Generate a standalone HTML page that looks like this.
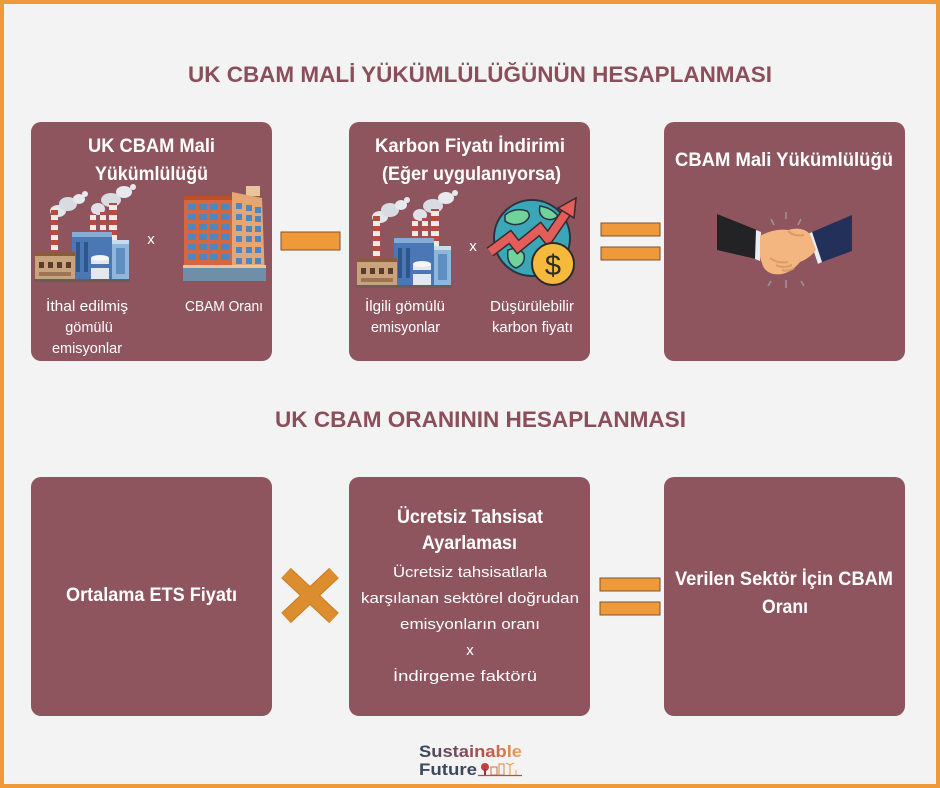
<!DOCTYPE html>
<html><head><meta charset="utf-8"><style>
html,body{margin:0;padding:0;background:#f3f3f3;overflow:hidden}
svg{display:block}
text{font-family:"Liberation Sans",sans-serif}
</style></head><body>
<svg width="940" height="788" viewBox="0 0 940 788" xmlns="http://www.w3.org/2000/svg">
<defs>
<pattern id="stripe" width="10" height="10" patternUnits="userSpaceOnUse">
<rect width="10" height="5" fill="#b94a3e"/><rect y="5" width="10" height="5" fill="#efebe6"/>
</pattern>
<linearGradient id="logo" gradientUnits="userSpaceOnUse" x1="419" y1="0" x2="522" y2="0">
<stop offset="0" stop-color="#34475c"/><stop offset="0.45" stop-color="#8a4a5a"/><stop offset="0.7" stop-color="#c45a4a"/><stop offset="1" stop-color="#eba85a"/>
</linearGradient>
<g id="factory">
<ellipse cx="58" cy="211" rx="8" ry="6" fill="#e4e5ea"/>
<ellipse cx="68" cy="204" rx="9" ry="7" fill="#d9dbe2"/>
<ellipse cx="79" cy="199" rx="6" ry="5" fill="#e8e9ee"/>
<circle cx="85" cy="194" r="3" fill="#e8e9ee"/>
<ellipse cx="98" cy="209" rx="7" ry="6" fill="#e0e1e7"/>
<ellipse cx="111" cy="200" rx="10" ry="7" fill="#d9dbe2"/>
<ellipse cx="124" cy="192" rx="8" ry="6" fill="#e8e9ee"/>
<circle cx="133" cy="187" r="3" fill="#e8e9ee"/>
<rect x="51" y="208" width="7" height="54" fill="url(#stripe)"/>
<rect x="90" y="214" width="6" height="38" fill="url(#stripe)"/>
<rect x="100" y="212" width="6" height="40" fill="url(#stripe)"/>
<rect x="109" y="203" width="8" height="48" fill="url(#stripe)"/>
<rect x="72" y="234" width="40" height="46" fill="#4b78b4"/>
<rect x="72" y="232" width="40" height="5" fill="#86aad6"/>
<rect x="76" y="242" width="4" height="30" fill="#2f5688"/>
<rect x="84" y="242" width="4" height="30" fill="#2f5688"/>
<rect x="112" y="240" width="17" height="41" fill="#8fb6db"/>
<rect x="112" y="240" width="17" height="4" fill="#c9dcee"/>
<rect x="116" y="248" width="9" height="26" fill="#5f8fc2"/>
<rect x="91" y="258" width="18" height="23" fill="#e4e8ee"/>
<ellipse cx="100" cy="258" rx="9" ry="3" fill="#f4f5f7"/>
<rect x="91" y="264" width="18" height="4" fill="#4b78b4"/>
<rect x="35" y="255" width="40" height="26" fill="#c8a37c"/>
<rect x="35" y="252" width="40" height="4" fill="#8b5b3d"/>
<rect x="39" y="262" width="5" height="6" fill="#5b3c2c"/>
<rect x="48" y="262" width="5" height="6" fill="#5b3c2c"/>
<rect x="57" y="262" width="5" height="6" fill="#5b3c2c"/>
<rect x="66" y="262" width="5" height="6" fill="#5b3c2c"/>
<rect x="39" y="272" width="32" height="4" fill="#9b7456"/>
<rect x="34" y="279" width="96" height="3" fill="#6d5b58"/>
</g>
</defs>

<rect x="2" y="2" width="936" height="784" fill="#f3f3f3" stroke="#f0993a" stroke-width="4"/>

<text x="188" y="82" font-size="22" font-weight="bold" fill="#8b4f5b" textLength="584" lengthAdjust="spacingAndGlyphs">UK CBAM MALİ YÜKÜMLÜLÜĞÜNÜN HESAPLANMASI</text>
<text x="275" y="427" font-size="22" font-weight="bold" fill="#8b4f5b" textLength="411" lengthAdjust="spacingAndGlyphs">UK CBAM ORANININ HESAPLANMASI</text>

<!-- top boxes -->
<rect x="31" y="122" width="241" height="239" rx="10" fill="#8e555e"/>
<rect x="349" y="122" width="241" height="239" rx="10" fill="#8e555e"/>
<rect x="664" y="122" width="241" height="239" rx="10" fill="#8e555e"/>
<!-- bottom boxes -->
<rect x="31" y="477" width="241" height="239" rx="10" fill="#8e555e"/>
<rect x="349" y="477" width="241" height="239" rx="10" fill="#8e555e"/>
<rect x="664" y="477" width="241" height="239" rx="10" fill="#8e555e"/>

<!-- box1 -->
<text x="88" y="152" font-size="19" font-weight="bold" fill="#fff" textLength="127" lengthAdjust="spacingAndGlyphs">UK CBAM Mali</text>
<text x="95" y="180" font-size="19" font-weight="bold" fill="#fff" textLength="113" lengthAdjust="spacingAndGlyphs">Yükümlülüğü</text>
<use href="#factory"/>
<text x="151" y="244" font-size="15" fill="#fff" text-anchor="middle">x</text>
<!-- building -->
<g>
<rect x="246" y="186" width="14" height="10" fill="#e9c49c"/>
<polygon points="232,192 262,198 265,281 232,281" fill="#e5a676"/>
<rect x="184" y="198" width="48" height="83" fill="#d3673f"/>
<rect x="184" y="196" width="48" height="4" fill="#b8522e"/>
<g fill="#4f86c0">
<rect x="188" y="204" width="8" height="6"/><rect x="199" y="204" width="8" height="6"/><rect x="210" y="204" width="8" height="6"/><rect x="221" y="204" width="8" height="6"/>
<rect x="188" y="214" width="8" height="6"/><rect x="199" y="214" width="8" height="6"/><rect x="210" y="214" width="8" height="6"/><rect x="221" y="214" width="8" height="6"/>
<rect x="188" y="224" width="8" height="6"/><rect x="199" y="224" width="8" height="6"/><rect x="210" y="224" width="8" height="6"/><rect x="221" y="224" width="8" height="6"/>
<rect x="188" y="234" width="8" height="6"/><rect x="199" y="234" width="8" height="6"/><rect x="210" y="234" width="8" height="6"/><rect x="221" y="234" width="8" height="6"/>
<rect x="188" y="244" width="8" height="6"/><rect x="199" y="244" width="8" height="6"/><rect x="210" y="244" width="8" height="6"/><rect x="221" y="244" width="8" height="6"/>
<rect x="188" y="254" width="8" height="6"/><rect x="199" y="254" width="8" height="6"/><rect x="210" y="254" width="8" height="6"/><rect x="221" y="254" width="8" height="6"/>
<rect x="236" y="203" width="6" height="6"/><rect x="246" y="205" width="6" height="6"/><rect x="255" y="207" width="6" height="6"/>
<rect x="236" y="214" width="6" height="6"/><rect x="246" y="215" width="6" height="6"/><rect x="255" y="216" width="6" height="6"/>
<rect x="236" y="225" width="6" height="6"/><rect x="246" y="226" width="6" height="6"/><rect x="255" y="226" width="6" height="6"/>
<rect x="236" y="236" width="6" height="6"/><rect x="246" y="236" width="6" height="6"/><rect x="255" y="236" width="6" height="6"/>
<rect x="236" y="247" width="6" height="6"/><rect x="246" y="247" width="6" height="6"/><rect x="255" y="247" width="6" height="6"/>
<rect x="236" y="258" width="6" height="6"/><rect x="246" y="258" width="6" height="6"/><rect x="255" y="258" width="6" height="6"/>
</g>
<rect x="183" y="266" width="83" height="15" fill="#6f8fa8"/>
<rect x="183" y="265" width="83" height="3" fill="#e9c49c"/>
</g>
<text x="46" y="311" font-size="14.5" fill="#fff" textLength="82" lengthAdjust="spacingAndGlyphs">İthal edilmiş</text>
<text x="89" y="332" font-size="14.5" fill="#fff" text-anchor="middle">gömülü</text>
<text x="87" y="353" font-size="14.5" fill="#fff" text-anchor="middle">emisyonlar</text>
<text x="185" y="311" font-size="14.5" fill="#fff" textLength="78" lengthAdjust="spacingAndGlyphs">CBAM Oranı</text>

<!-- minus -->
<rect x="281" y="232" width="59" height="18" fill="#f0993a" stroke="#7a5530" stroke-width="1"/>

<!-- box2 -->
<text x="375" y="152" font-size="19" font-weight="bold" fill="#fff" textLength="190" lengthAdjust="spacingAndGlyphs">Karbon Fiyatı İndirimi</text>
<text x="382" y="180" font-size="19" font-weight="bold" fill="#fff" textLength="179" lengthAdjust="spacingAndGlyphs">(Eğer uygulanıyorsa)</text>
<use href="#factory" transform="translate(322,6)"/>
<text x="473" y="251" font-size="15" fill="#fff" text-anchor="middle">x</text>
<!-- globe -->
<circle cx="532" cy="238" r="38" fill="#3ba6b8" stroke="#2a3440" stroke-width="2"/>
<path d="M505,215 q10,-8 22,-4 q6,6 -4,12 q-10,4 -18,-2 z" fill="#6fd39b" stroke="#2a3440" stroke-width="1.5"/>
<path d="M540,206 q12,2 18,10 q-6,6 -14,2 q-6,-4 -4,-12 z" fill="#6fd39b" stroke="#2a3440" stroke-width="1.5"/>
<path d="M508,250 q10,-4 16,4 q2,10 -8,14 q-10,-4 -8,-18 z" fill="#6fd39b" stroke="#2a3440" stroke-width="1.5"/>
<polyline points="490,252 510,237 518,247 540,229 548,239 568,210" fill="none" stroke="#3a2a2a" stroke-width="11" stroke-linejoin="miter"/>
<polyline points="490,252 510,237 518,247 540,229 548,239 568,210" fill="none" stroke="#e35d5b" stroke-width="8" stroke-linejoin="miter"/>
<polygon points="576,198 574,218 558,208" fill="#e35d5b" stroke="#3a2a2a" stroke-width="1.5"/>
<circle cx="553" cy="264" r="21" fill="#f6b93b" stroke="#2f2a2a" stroke-width="2"/>
<text x="553" y="275" font-size="29" fill="#2f2a2a" text-anchor="middle">$</text>
<text x="365" y="311" font-size="14.5" fill="#fff" textLength="80" lengthAdjust="spacingAndGlyphs">İlgili gömülü</text>
<text x="371" y="332" font-size="14.5" fill="#fff" textLength="69" lengthAdjust="spacingAndGlyphs">emisyonlar</text>
<text x="490" y="311" font-size="14.5" fill="#fff" textLength="84" lengthAdjust="spacingAndGlyphs">Düşürülebilir</text>
<text x="492" y="332" font-size="14.5" fill="#fff" textLength="81" lengthAdjust="spacingAndGlyphs">karbon fiyatı</text>

<!-- equals top -->
<rect x="601" y="223" width="59" height="13" fill="#f0993a" stroke="#7a5530" stroke-width="1"/>
<rect x="601" y="247" width="59" height="13" fill="#f0993a" stroke="#7a5530" stroke-width="1"/>

<!-- box3 -->
<text x="675" y="166" font-size="19" font-weight="bold" fill="#fff" textLength="218" lengthAdjust="spacingAndGlyphs">CBAM Mali Yükümlülüğü</text>
<!-- handshake -->
<g>
<polygon points="717,214 757,230 756,259 717,250" fill="#232326"/>
<polygon points="756,230 761,232 760,261 755,259" fill="#e8eef4"/>
<polygon points="852,215 812,232 822,262 852,251" fill="#22305a"/>
<polygon points="812,232 808,234 818,264 822,262" fill="#e8eef4"/>
<path d="M760,236 q14,-8 28,-6 q14,-4 22,4 l6,16 q-6,8 -16,12 q-8,10 -18,12 q-12,2 -18,-6 q-4,-8 -4,-14 z" fill="#f3b681"/>
<path d="M770,258 q8,6 18,4 M776,265 q8,4 16,0 M782,270 q6,2 12,-2" stroke="#dd9a62" stroke-width="2" fill="none"/>
<path d="M788,231 q6,6 16,4" stroke="#dd9a62" stroke-width="2" fill="none"/>
<g stroke="#9a96a0" stroke-width="1.5">
<line x1="786" y1="212" x2="786" y2="219"/><line x1="771" y1="219" x2="774" y2="225"/><line x1="801" y1="219" x2="798" y2="225"/>
<line x1="786" y1="280" x2="786" y2="288"/><line x1="771" y1="281" x2="768" y2="286"/><line x1="801" y1="281" x2="804" y2="286"/>
</g>
</g>

<!-- bottom box1 -->
<text x="66" y="601" font-size="19" font-weight="bold" fill="#fff" textLength="171" lengthAdjust="spacingAndGlyphs">Ortalama ETS Fiyatı</text>

<!-- cross -->
<line x1="286" y1="573" x2="334" y2="618" stroke="#c97a24" stroke-width="14"/>
<line x1="334" y1="573" x2="286" y2="618" stroke="#c97a24" stroke-width="14"/>
<line x1="286" y1="573" x2="334" y2="618" stroke="#dc8d2d" stroke-width="12"/>
<line x1="334" y1="573" x2="286" y2="618" stroke="#dc8d2d" stroke-width="12"/>

<!-- bottom box2 -->
<text x="397" y="523" font-size="19" font-weight="bold" fill="#fff" textLength="146" lengthAdjust="spacingAndGlyphs">Ücretsiz Tahsisat</text>
<text x="422" y="549" font-size="19" font-weight="bold" fill="#fff" textLength="95" lengthAdjust="spacingAndGlyphs">Ayarlaması</text>
<text x="393" y="577" font-size="15" fill="#fff" textLength="154" lengthAdjust="spacingAndGlyphs">Ücretsiz tahsisatlarla</text>
<text x="361" y="603" font-size="15" fill="#fff" textLength="218" lengthAdjust="spacingAndGlyphs">karşılanan sektörel doğrudan</text>
<text x="400" y="629" font-size="15" fill="#fff" textLength="140" lengthAdjust="spacingAndGlyphs">emisyonların oranı</text>
<text x="470" y="655" font-size="15" fill="#fff" text-anchor="middle">x</text>
<text x="393" y="681" font-size="15" fill="#fff" textLength="144" lengthAdjust="spacingAndGlyphs">İndirgeme faktörü</text>

<!-- equals bottom -->
<rect x="600" y="578" width="60" height="13" fill="#f0993a" stroke="#7a5530" stroke-width="1"/>
<rect x="600" y="602" width="60" height="13" fill="#f0993a" stroke="#7a5530" stroke-width="1"/>

<!-- bottom box3 -->
<text x="675" y="585" font-size="19" font-weight="bold" fill="#fff" textLength="218" lengthAdjust="spacingAndGlyphs">Verilen Sektör İçin CBAM</text>
<text x="762" y="613" font-size="19" font-weight="bold" fill="#fff" textLength="46" lengthAdjust="spacingAndGlyphs">Oranı</text>

<!-- logo -->
<text x="419" y="757" font-size="17" font-weight="bold" fill="url(#logo)" textLength="103" lengthAdjust="spacingAndGlyphs">Sustainable</text>
<text x="419" y="775" font-size="17" font-weight="bold" fill="#3a4a5e" textLength="58" lengthAdjust="spacingAndGlyphs">Future</text>
<circle cx="485" cy="767" r="4" fill="#c2413e"/>
<rect x="484" y="769" width="2" height="6" fill="#8a3a3a"/>
<rect x="491" y="767" width="6" height="8" fill="none" stroke="#c8703a" stroke-width="1"/>
<rect x="499" y="764" width="5" height="11" fill="none" stroke="#d8873f" stroke-width="1"/>
<line x1="510" y1="765" x2="510" y2="775" stroke="#e09a4a" stroke-width="1"/>
<line x1="510" y1="765" x2="506" y2="763" stroke="#e09a4a" stroke-width="1"/>
<line x1="510" y1="765" x2="514" y2="763" stroke="#e09a4a" stroke-width="1"/>
<line x1="516" y1="770" x2="516" y2="775" stroke="#e9a85a" stroke-width="1"/>
<line x1="478" y1="775.5" x2="522" y2="775.5" stroke="#b8504a" stroke-width="1.2"/>
</svg>
</body></html>
